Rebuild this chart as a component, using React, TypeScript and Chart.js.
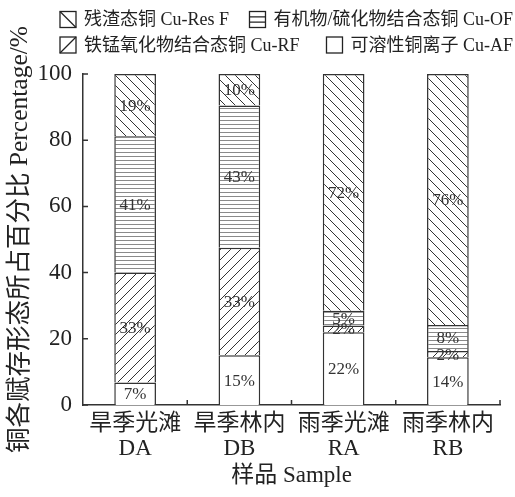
import { useEffect, useRef } from "react";
import { Chart, registerables } from "chart.js";
Chart.register(...registerables);

const categories = [
  ["旱季光滩", "DA"],
  ["旱季林内", "DB"],
  ["雨季光滩", "RA"],
  ["雨季林内", "RB"],
];
const seriesNames = [
  "可溶性铜离子 Cu-AF",
  "铁锰氧化物结合态铜 Cu-RF",
  "有机物/硫化物结合态铜 Cu-OF",
  "残渣态铜 Cu-Res F",
];
const cuAF = [6.8, 15, 22, 14.4];
const cuRF = [33.2, 32.5, 2, 1.9];
const cuOF = [41.2, 43, 4.5, 7.9];
const cuRes = [18.8, 9.5, 71.5, 75.8];
const yMin = 0;
const yMax = 100;
const yStep = 20;
const xTitle = "样品 Sample";
const yTitle = "铜各赋存形态所占百分比 Percentage/%";

const FONT = '"Liberation Serif", "Noto Sans CJK SC", serif';
const kinds = ["blank", "slash", "hline", "backslash"];

function makePattern(kind: string): CanvasPattern | string {
  if (kind === "blank") return "#ffffff";
  const c = document.createElement("canvas");
  const s = kind === "hline" ? 4 : 10;
  c.width = s;
  c.height = s;
  const g = c.getContext("2d")!;
  g.fillStyle = "#ffffff";
  g.fillRect(0, 0, s, s);
  g.lineWidth = 1;
  if (kind === "hline") {
    g.strokeStyle = "#8a8a8a";
    g.beginPath();
    g.moveTo(0, 0.5);
    g.lineTo(s, 0.5);
    g.stroke();
  } else {
    g.strokeStyle = "#333333";
    g.beginPath();
    for (let k = -1; k <= 1; k++) {
      if (kind === "backslash") {
        g.moveTo(0, k * s);
        g.lineTo(s, s + k * s);
      } else {
        g.moveTo(0, s + k * s);
        g.lineTo(s, k * s);
      }
    }
    g.stroke();
  }
  const ctx = document.createElement("canvas").getContext("2d")!;
  return ctx.createPattern(c, "repeat")!;
}

function drawLegendBox(ctx: CanvasRenderingContext2D, x: number, y: number, w: number, h: number, kind: string) {
  ctx.save();
  ctx.fillStyle = "#fff";
  ctx.fillRect(x, y, w, h);
  ctx.strokeStyle = "#222";
  ctx.lineWidth = 1.3;
  ctx.beginPath();
  if (kind === "backslash") {
    ctx.moveTo(x, y);
    ctx.lineTo(x + w, y + h);
  } else if (kind === "slash") {
    ctx.moveTo(x, y + h);
    ctx.lineTo(x + w, y);
  } else if (kind === "hline") {
    ctx.moveTo(x, y + h / 3);
    ctx.lineTo(x + w, y + h / 3);
    ctx.moveTo(x, y + (2 * h) / 3);
    ctx.lineTo(x + w, y + (2 * h) / 3);
  }
  ctx.stroke();
  ctx.strokeRect(x, y, w, h);
  ctx.restore();
}

const legendPlugin = {
  id: "customLegend",
  afterDraw(chart: any) {
    const ctx = chart.ctx as CanvasRenderingContext2D;
    const rows = [
      [3, 2],
      [1, 0],
    ];
    const rowY = [19.5, 45];
    ctx.save();
    ctx.font = "18px " + FONT;
    ctx.textBaseline = "middle";
    ctx.textAlign = "left";
    rows.forEach((row, r) => {
      row.forEach((di, c) => {
        const text = chart.data.datasets[di].label as string;
        const tw = ctx.measureText(text).width;
        const boxX = c === 0 ? 60 : 513 - tw - 24;
        const y = rowY[r];
        drawLegendBox(ctx, boxX, y - 8, 16, 16, kinds[di]);
        ctx.fillStyle = "#222";
        ctx.fillText(text, boxX + 24, y + 1);
      });
    });
    ctx.restore();
  },
};

const labelPlugin = {
  id: "barLabels",
  afterDatasetsDraw(chart: any) {
    const ctx = chart.ctx as CanvasRenderingContext2D;
    ctx.save();
    ctx.font = "17px " + FONT;
    ctx.fillStyle = "#333";
    ctx.textAlign = "center";
    ctx.textBaseline = "middle";
    chart.data.datasets.forEach((ds: any, di: number) => {
      const meta = chart.getDatasetMeta(di);
      meta.data.forEach((bar: any, i: number) => {
        const { x, y, base } = bar.getProps(["x", "y", "base"], true);
        ctx.fillText(Math.round(ds.data[i]) + "%", x, (y + base) / 2 + 1);
      });
    });
    ctx.restore();
  },
};

const innerTicksPlugin = {
  id: "innerTicks",
  afterDraw(chart: any) {
    const ctx = chart.ctx as CanvasRenderingContext2D;
    const xs = chart.scales.x;
    const ys = chart.scales.y;
    const area = chart.chartArea;
    ctx.save();
    ctx.strokeStyle = "#333";
    ctx.lineWidth = 1.5;
    ctx.beginPath();
    ys.ticks.forEach((t: any) => {
      const py = ys.getPixelForValue(t.value);
      ctx.moveTo(area.left, py);
      ctx.lineTo(area.left + 5, py);
    });
    const n = chart.data.labels.length;
    const w = (xs.right - xs.left) / n;
    for (let k = 1; k <= n; k++) {
      const px = xs.left + k * w;
      ctx.moveTo(px, area.bottom);
      ctx.lineTo(px, area.bottom - 5);
    }
    ctx.stroke();
    ctx.restore();
  },
};

export default function App() {
  const ref = useRef<HTMLCanvasElement | null>(null);
  useEffect(() => {
    if (!ref.current) return;
    const values = [cuAF, cuRF, cuOF, cuRes];
    const chart = new Chart(ref.current, {
      type: "bar",
      data: {
        labels: categories,
        datasets: values.map((v, i) => ({
          label: seriesNames[i],
          data: v,
          backgroundColor: makePattern(kinds[i]) as any,
          borderColor: "#333",
          borderWidth: 1.5,
          categoryPercentage: 1,
          barPercentage: 0.4,
        })),
      },
      options: {
        animation: false,
        responsive: true,
        maintainAspectRatio: false,
        layout: { padding: { top: 74, right: 15, left: 0, bottom: 0 } },
        plugins: {
          legend: { display: false },
          tooltip: { enabled: false },
        },
        scales: {
          x: {
            stacked: true,
            offset: true,
            grid: { display: false, drawTicks: false },
            border: { display: true, color: "#333", width: 1.5 },
            ticks: {
              font: { family: FONT, size: 23, lineHeight: 1.1 },
              color: "#222",
              padding: 6,
              autoSkip: false,
              maxRotation: 0,
            },
            title: {
              display: true,
              text: xTitle,
              font: { family: FONT, size: 23 },
              color: "#222",
              padding: { top: 0, bottom: 7 },
            },
            afterFit: (s: any) => {
              s.height = 92;
            },
          },
          y: {
            stacked: true,
            min: yMin,
            max: yMax,
            grid: { display: false, drawTicks: false },
            border: { display: true, color: "#333", width: 1.5 },
            ticks: {
              stepSize: yStep,
              font: { family: FONT, size: 23 },
              color: "#222",
              padding: 11,
            },
            title: {
              display: true,
              text: yTitle,
              font: { family: FONT, size: 25.5 },
              color: "#222",
              padding: { top: 5, bottom: 0 },
            },
            afterFit: (s: any) => {
              s.width = 83;
            },
          },
        },
      },
      plugins: [labelPlugin, innerTicksPlugin, legendPlugin],
    });
    return () => chart.destroy();
  }, []);
  return (
    <div style={{ position: "absolute", left: 0, top: 0, width: 515, height: 497, background: "#fff" }}>
      <canvas ref={ref} />
    </div>
  );
}
